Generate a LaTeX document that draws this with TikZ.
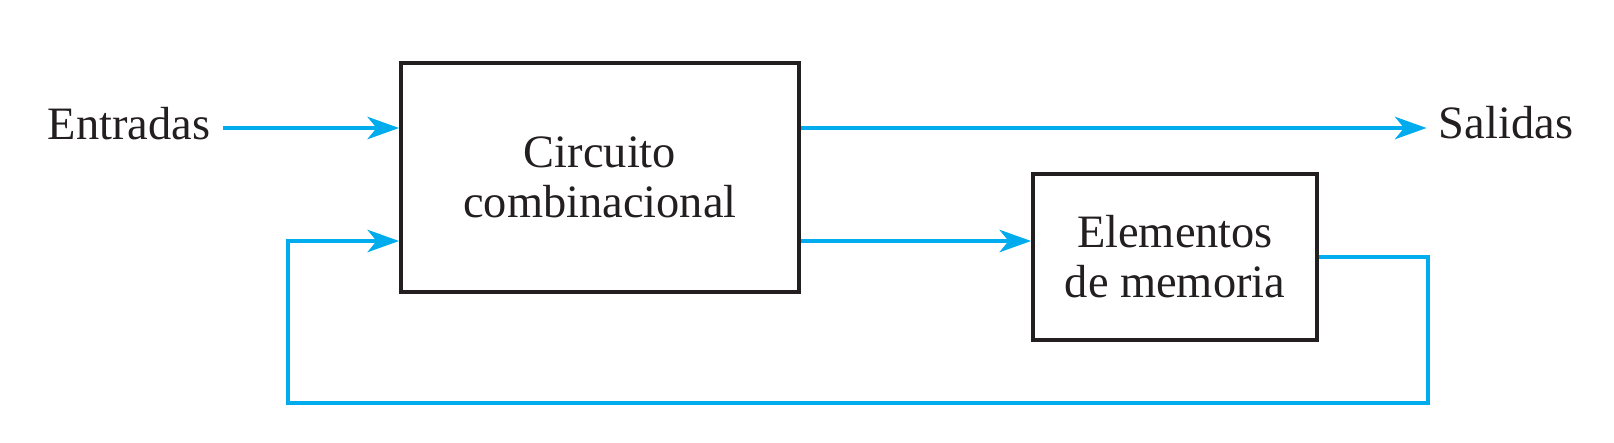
\documentclass[tikz,border=0pt]{standalone}
\usepackage{fontspec}
\setmainfont{Liberation Serif}
\usetikzlibrary{arrows.meta}
\definecolor{cian}{RGB}{0,172,238}
\definecolor{tinta}{RGB}{35,31,32}
\begin{document}
\begin{tikzpicture}[x=0.01cm,y=-0.01cm,
  font=\fontsize{13.2}{14.2}\selectfont,
  bloque/.style={draw=tinta, line width=1.05pt, align=center, text=tinta, inner sep=0pt},
  flecha/.style={cian, line width=0.9pt, -{Stealth[length=9pt,width=6.4pt,inset=2.6pt]}},
  linea/.style={cian, line width=0.9pt}]
\useasboundingbox (0,0) rectangle (1614,442);
\node[bloque, minimum width=3.98cm, minimum height=2.29cm] (cc) at (600,177.5) {Circuito\\combinacional};
\node[bloque, minimum width=2.84cm, minimum height=1.66cm] (mem) at (1175,257) {Elementos\\de memoria};
\node[anchor=base, text=tinta] (ent) at (129,139) {Entradas};
\node[anchor=base, text=tinta] (sal) at (1506,138) {Salidas};
\coordinate (der) at (1428,403);
\coordinate (izq) at (288,403);
\draw[flecha] (ent.east |- 0,128) -- (cc.west |- 0,128);
\draw[flecha] (cc.east |- 0,128) -- (sal.west |- 0,128);
\draw[flecha] (cc.east |- 0,241) -- (mem.west |- 0,241);
\draw[flecha] (mem.east) -| (der) -- (izq) |- (cc.west |- 0,241);
\end{tikzpicture}
\end{document}
